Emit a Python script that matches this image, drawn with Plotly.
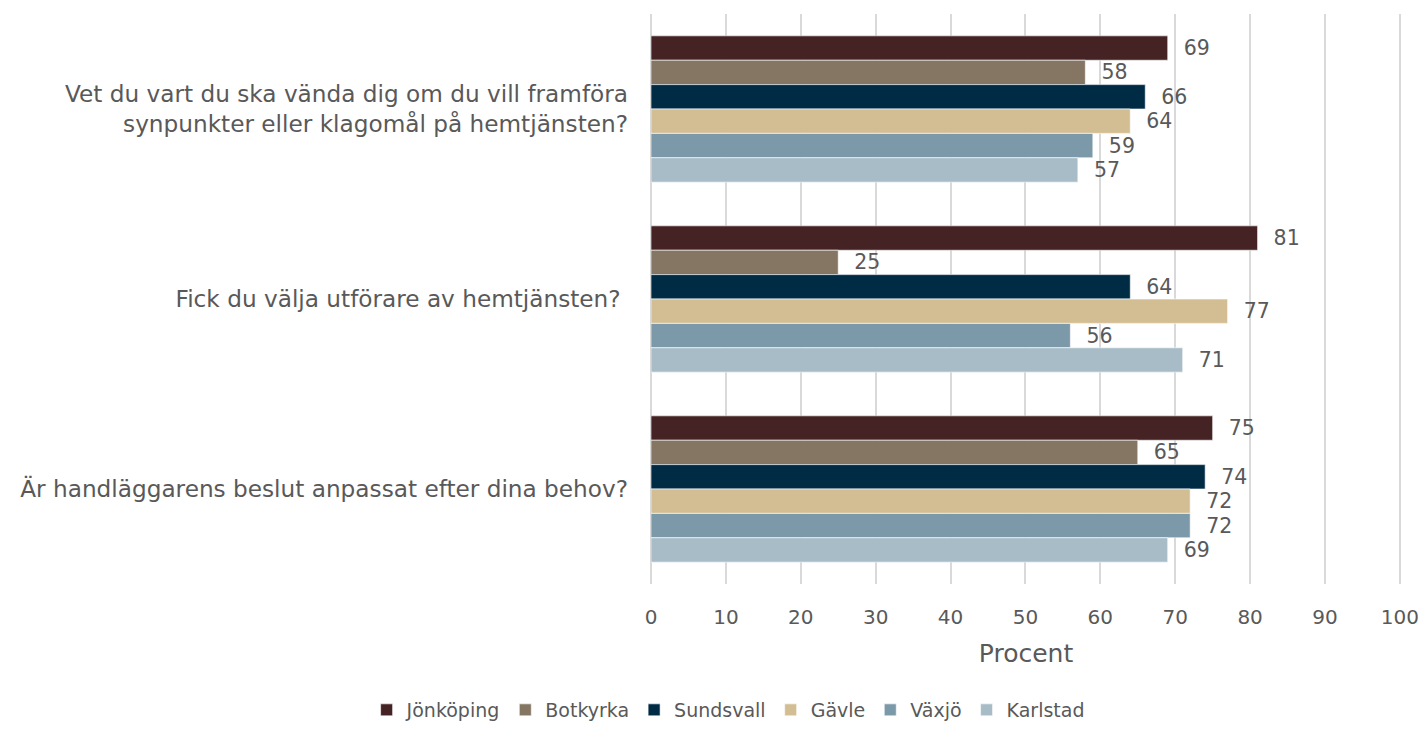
import plotly.graph_objects as go

questions = [
    "Vet du vart du ska vända dig om du vill framföra<br>synpunkter eller klagomål på hemtjänsten?",
    "Fick du välja utförare av hemtjänsten? ",
    "Är handläggarens beslut anpassat efter dina behov?",
]
series_names = ["Jönköping", "Botkyrka", "Sundsvall", "Gävle", "Växjö", "Karlstad"]
jonkoping = [69, 81, 75]
botkyrka = [58, 25, 65]
sundsvall = [66, 64, 74]
gavle = [64, 77, 72]
vaxjo = [59, 56, 72]
karlstad = [57, 71, 69]
values = [jonkoping, botkyrka, sundsvall, gavle, vaxjo, karlstad]
colors = ["#452224", "#857563", "#002B45", "#D3BE93", "#7C99AA", "#A7BCC6"]

FONT = "'DejaVu Sans', sans-serif"
GREY = "#595959"

fig = go.Figure()
for name, vals, col in zip(series_names, values, colors):
    fig.add_trace(go.Bar(
        y=questions, x=vals, name=name, orientation="h",
        marker=dict(color=col, line=dict(color="white", width=0.6)),
        text=["  " + str(v) for v in vals], textposition="outside",
        textfont=dict(family=FONT, size=20.5, color=GREY),
        cliponaxis=False,
    ))

fig.update_layout(
    barmode="group", bargap=0.23, bargroupgap=0,
    width=1412, height=721,
    margin=dict(l=643, r=19, t=6, b=145, autoexpand=False),
    paper_bgcolor="white", plot_bgcolor="white",
    font=dict(family=FONT, size=20, color=GREY),
    xaxis=dict(range=[0, 100.15], tickvals=[0, 10, 20, 30, 40, 50, 60, 70, 80, 90, 100],
               showgrid=True, gridcolor="#D9D9D9", gridwidth=1.5,
               zeroline=True, zerolinecolor="#D9D9D9", zerolinewidth=1.5,
               tickfont=dict(family=FONT, size=20, color=GREY), ticks="", ticklen=0,
               ticklabelstandoff=19, ticklabeloverflow="allow",
               title=dict(text="Procent", font=dict(family=FONT, size=25, color=GREY), standoff=16)),
    yaxis=dict(autorange="reversed", tickfont=dict(family=FONT, size=23.2, color=GREY),
               ticks="", ticklabelstandoff=22, showline=False),
    legend=dict(orientation="h", xref="container", x=0.51, xanchor="center",
                yref="container", y=-0.012, yanchor="bottom",
                font=dict(family=FONT, size=19, color=GREY), traceorder="normal",
                itemwidth=30),
    showlegend=True,
)
fig.update_yaxes(automargin=False)
fig.update_xaxes(automargin=False)

fig.write_html("out.html")
